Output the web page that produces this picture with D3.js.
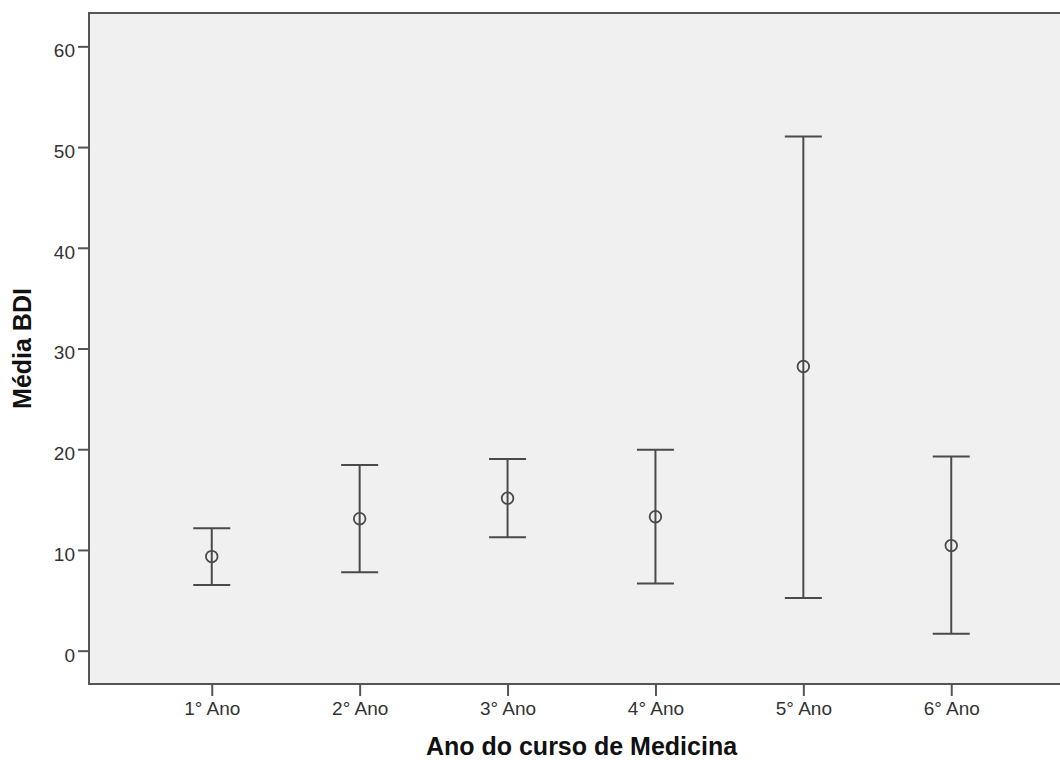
<!DOCTYPE html>
<html>
<head>
<meta charset="utf-8">
<script src="https://cdn.jsdelivr.net/npm/d3@7"></script>
<style>
  body { margin: 0; background: #fff; }
  text { font-family: "Liberation Sans", Arial, sans-serif; }
</style>
</head>
<body>
<div id="chart"></div>
<script>
// data
const years = ['1° Ano', '2° Ano', '3° Ano', '4° Ano', '5° Ano', '6° Ano'];
const means = [9.34, 13.1, 15.14, 13.3, 28.21, 10.43];
const lower = [6.52, 7.78, 11.27, 6.66, 5.23, 1.69];
const upper = [12.16, 18.43, 19.04, 19.94, 51.06, 19.27];
const yTicks = [0, 10, 20, 30, 40, 50, 60];

const width = 1060, height = 760;
const margin = {top: 13, right: -14, bottom: 76, left: 89};

const rows = years.map((d, i) => ({year: d, mean: means[i], lo: lower[i], hi: upper[i]}));

let svg = d3.select('#chart')
  .append('svg')
  .attr('width', width)
  .attr('height', height);

let x = d3.scalePoint()
  .domain(years)
  .range([margin.left, width - margin.right])
  .padding(0.83);

let y = d3.scaleLinear()
  .domain([-3.31, 63.31])
  .range([height - margin.bottom, margin.top]);

const lineColor = '#4a4a4a';

// plot background (right edge runs off the picture)
svg.append('rect')
  .attr('x', margin.left)
  .attr('y', margin.top)
  .attr('width', width - margin.left + 40)
  .attr('height', height - margin.bottom - margin.top)
  .attr('fill', '#f0f0f0')
  .attr('stroke', '#555')
  .attr('stroke-width', 2);

// axes
const yAxis = svg.append('g')
  .attr('transform', 'translate(' + margin.left + ',0)')
  .call(d3.axisLeft(y).tickValues(yTicks).tickSize(11).tickPadding(3));

const xAxis = svg.append('g')
  .attr('transform', 'translate(0,' + (height - margin.bottom) + ')')
  .call(d3.axisBottom(x).tickSize(12).tickPadding(5));

[xAxis, yAxis].forEach(a => {
  a.select('.domain').remove();
  a.selectAll('line').attr('stroke', '#555').attr('stroke-width', 2);
  a.selectAll('text')
    .attr('fill', '#333')
    .style('font-size', '19px');
});
yAxis.selectAll('text').attr('dy', '0.55em');
xAxis.selectAll('text').attr('dy', '0.72em');

// error bars
const capHalf = 18.5;
let bars = svg.append('g').selectAll('g').data(rows).enter().append('g');

bars.append('line')
  .attr('x1', d => x(d.year)).attr('x2', d => x(d.year))
  .attr('y1', d => y(d.hi)).attr('y2', d => y(d.lo))
  .attr('stroke', lineColor).attr('stroke-width', 2);

bars.selectAll('.cap')
  .data(d => [{year: d.year, v: d.hi}, {year: d.year, v: d.lo}])
  .enter().append('line')
  .attr('class', 'cap')
  .attr('x1', d => x(d.year) - capHalf).attr('x2', d => x(d.year) + capHalf)
  .attr('y1', d => y(d.v)).attr('y2', d => y(d.v))
  .attr('stroke', lineColor).attr('stroke-width', 2);

bars.append('circle')
  .attr('cx', d => x(d.year))
  .attr('cy', d => y(d.mean))
  .attr('r', 5.8)
  .attr('fill', 'none')
  .attr('stroke', lineColor)
  .attr('stroke-width', 1.8);

// axis titles
svg.append('text')
  .attr('x', (margin.left + width - margin.right) / 2)
  .attr('y', 755)
  .attr('text-anchor', 'middle')
  .style('font-size', '25px')
  .style('font-weight', 'bold')
  .attr('fill', '#111')
  .text('Ano do curso de Medicina');

svg.append('text')
  .attr('transform', 'translate(31,' + ((margin.top + height - margin.bottom) / 2) + ') rotate(-90)')
  .attr('text-anchor', 'middle')
  .style('font-size', '25px')
  .style('font-weight', 'bold')
  .attr('fill', '#111')
  .text('Média BDI');
</script>
</body>
</html>
